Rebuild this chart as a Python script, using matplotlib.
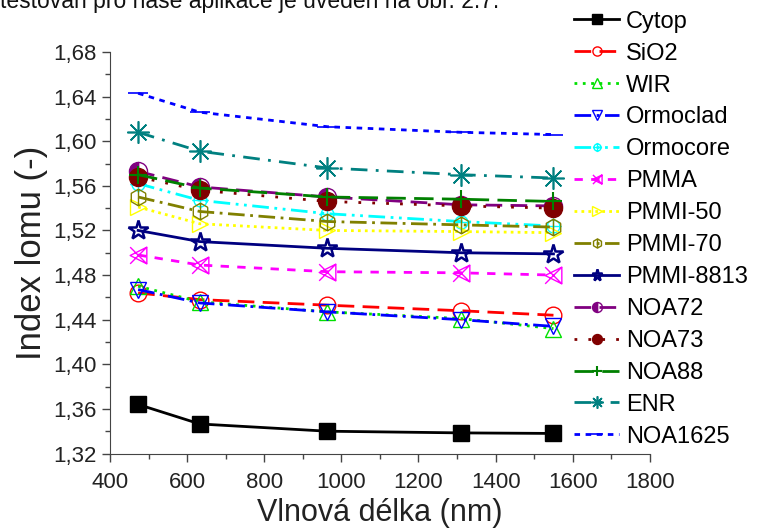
import numpy as np
import matplotlib.pyplot as plt
from matplotlib.path import Path
from matplotlib.ticker import MultipleLocator, FuncFormatter

plt.rcParams['font.family'] = ['Liberation Sans', 'DejaVu Sans']

# vlnove delky mereni (nm)
vlnova_delka = [473, 633, 964, 1310, 1550]

cytop = [1.364, 1.3465, 1.340, 1.3385, 1.338]
sio2 = [1.464, 1.458, 1.453, 1.448, 1.444]
wir = [1.470, 1.456, 1.447, 1.441, 1.432]
ormoclad = [1.467, 1.455, 1.447, 1.440, 1.434]
ormocore = [1.562, 1.547, 1.535, 1.528, 1.524]
pmma = [1.498, 1.489, 1.483, 1.482, 1.480]
pmmi50 = [1.541, 1.526, 1.520, 1.519, 1.518]
pmmi70 = [1.550, 1.537, 1.528, 1.525, 1.523]
pmmi8813 = [1.520, 1.510, 1.504, 1.500, 1.499]
noa72 = [1.573, 1.559, 1.550, 1.543, 1.542]
noa73 = [1.568, 1.556, 1.546, 1.542, 1.540]
noa88 = [1.570, 1.558, 1.550, 1.548, 1.546]
enr = [1.608, 1.591, 1.576, 1.570, 1.567]
noa1625 = [1.643, 1.626, 1.613, 1.608, 1.606]

# znacka pro PMMA: trojuhelnik vlevo + krizek
tri_x = Path([(-1, 0), (1, 1), (1, -1), (-1, 0), (-1, 1), (1, -1), (-1, -1), (1, 1)],
             [Path.MOVETO, Path.LINETO, Path.LINETO, Path.CLOSEPOLY,
              Path.MOVETO, Path.LINETO, Path.MOVETO, Path.LINETO])
# kruh s krizem (Ormocore)
t = np.linspace(0, 2 * np.pi, 33)
kruh_v = [(np.cos(a), np.sin(a)) for a in t]
kruh_kod = [Path.MOVETO] + [Path.LINETO] * 32
kruh_plus = Path(kruh_v + [(-1.3, 0), (1.3, 0), (0, -1.3), (0, 1.3)],
                 kruh_kod + [Path.MOVETO, Path.LINETO, Path.MOVETO, Path.LINETO])
# sestiuhelnik s carou (PMMI-70)
h = np.linspace(0, 2 * np.pi, 7) + np.pi / 6
hex_v = [(np.cos(a), np.sin(a)) for a in h]
hex_cara = Path(hex_v + [(0, -1), (0, 1)],
                [Path.MOVETO] + [Path.LINETO] * 6 + [Path.MOVETO, Path.LINETO])

fig = plt.figure(figsize=(7.61, 5.30), dpi=100)
ax = fig.add_axes([0.1445, 0.1443, 0.7095, 0.7576])

lw = 2.0
ms = 12
ax.plot(vlnova_delka, cytop, 's-', color='black', lw=lw, ms=ms, label='Cytop')
ax.plot(vlnova_delka, sio2, 'o', ls=(0, (6, 3)), color='red', lw=lw, ms=ms, mfc='none', label='SiO2')
ax.plot(vlnova_delka, wir, '^', ls=(0, (1, 2)), color='#00e000', lw=lw, ms=ms, mfc='none', label='WIR')
ax.plot(vlnova_delka, ormoclad, 'v', ls=(0, (6, 2, 1, 2)), color='blue', lw=lw, ms=ms, mfc='none',
        label='Ormoclad')
ax.plot(vlnova_delka, ormocore, marker=kruh_plus, ls=(0, (6, 2, 1, 2, 1, 2)), color='cyan', lw=lw, ms=ms,
        mfc='none', label='Ormocore')
ax.plot(vlnova_delka, pmma, marker=tri_x, ls=(0, (3, 3)), color='magenta', lw=lw, ms=ms, mfc='none',
        label='PMMA')
ax.plot(vlnova_delka, pmmi50, '>', ls=(0, (1, 1.5)), color='yellow', lw=lw, ms=ms, mfc='none',
        label='PMMI-50')
ax.plot(vlnova_delka, pmmi70, marker=hex_cara, ls=(0, (6, 2, 1, 2)), color='#808000', lw=lw, ms=ms,
        mfc='none', label='PMMI-70')
ax.plot(vlnova_delka, pmmi8813, '*-', color='#000080', lw=lw, ms=15, mfc='none', mew=1.8, label='PMMI-8813')
ax.plot(vlnova_delka, noa72, 'o', ls=(0, (6, 3)), color='#800080', lw=lw, ms=13, fillstyle='left',
        label='NOA72')
ax.plot(vlnova_delka, noa73, 'o', ls=(0, (1, 4)), color='#800000', lw=lw, ms=13, label='NOA73')
ax.plot(vlnova_delka, noa88, '+', ls=(0, (7, 3)), color='#008000', lw=lw, ms=13, mew=1.5, label='NOA88')
ax.plot(vlnova_delka, enr, marker=(8, 2, 0), ls=(0, (6, 3, 1, 3)), color='#008080', lw=lw, ms=16, mew=1.2,
        label='ENR')
ax.plot(vlnova_delka, noa1625, '_', ls=(0, (2, 2)), color='blue', lw=lw, ms=15, mew=1.2, label='NOA1625')

ax.set_xlim(400, 1800)
ax.set_ylim(1.32, 1.68)
ax.xaxis.set_major_locator(MultipleLocator(200))
ax.xaxis.set_minor_locator(MultipleLocator(100))
ax.yaxis.set_major_locator(MultipleLocator(0.04))
ax.yaxis.set_minor_locator(MultipleLocator(0.02))
ax.yaxis.set_major_formatter(FuncFormatter(lambda v, p: ('%.2f' % v).replace('.', ',')))
ax.spines['top'].set_visible(False)
ax.spines['right'].set_visible(False)
for s in ['left', 'bottom']:
    ax.spines[s].set_color('#444444')
ax.tick_params(which='major', direction='out', length=6, width=1, colors='#444444', labelcolor='#222222',
               labelsize=16)
ax.tick_params(axis='x', which='major', pad=7)
ax.tick_params(which='minor', direction='out', length=3.5, width=1, colors='#444444')

ax.set_xlabel('Vlnová délka (nm)', fontsize=22, color='#222222', labelpad=4)
ax.set_ylabel('Index lomu (-)', fontsize=25, color='#222222', labelpad=4)

fig.legend(loc='upper left', bbox_to_anchor=(0.739, 1.002), frameon=False, fontsize=17,
           handlelength=1.9, handletextpad=0.3, labelspacing=0.42, borderpad=0, markerscale=0.55)

fig.text(0.0, 1 - 8 / 530, 'testován pro naše aplikace je uveden na obr. 2.7.', fontsize=16.5,
         va='baseline', ha='left', color='#111111')

plt.savefig('out.png', dpi=100)
